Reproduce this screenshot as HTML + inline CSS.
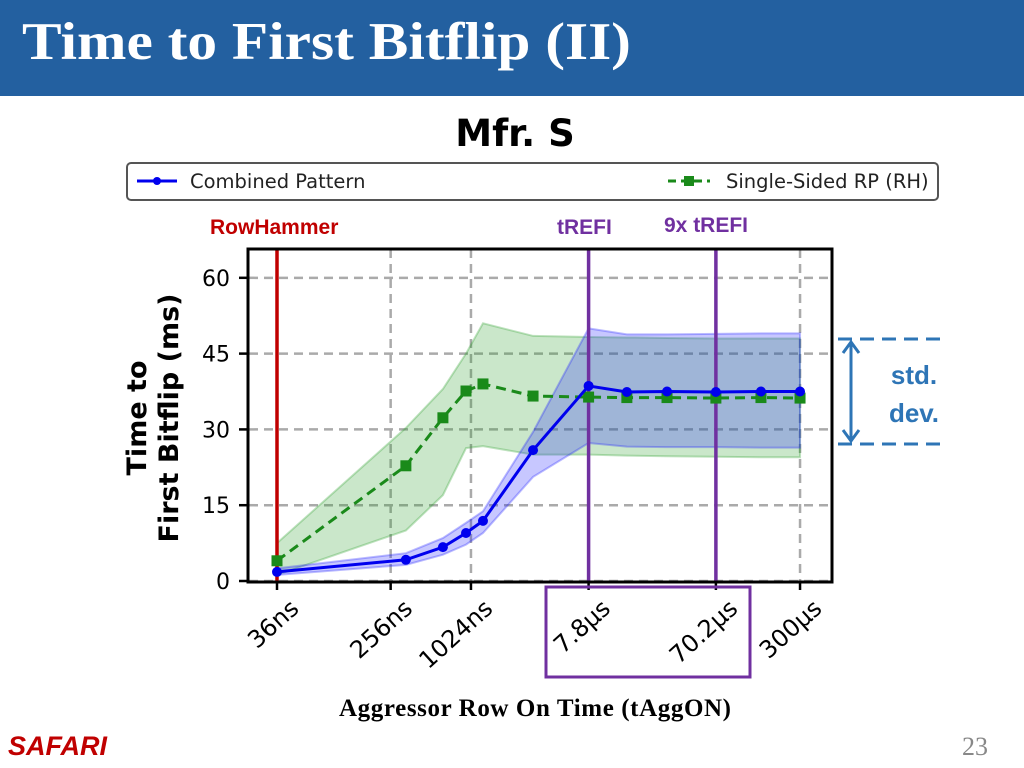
<!DOCTYPE html>
<html><head><meta charset="utf-8"><style>
body{margin:0;width:1024px;height:768px;overflow:hidden;background:#fff;font-family:"DejaVu Sans","Liberation Sans",sans-serif;position:relative}
.abs{position:absolute}
</style></head><body>
<div class="abs" style="left:0;top:0;width:1024px;height:96px;background:#2360a0"></div>
<div class="abs" style="left:22px;top:12px;font:bold 53px 'Liberation Serif',serif;color:#fff;transform:scaleX(1.12);transform-origin:0 0;white-space:nowrap">Time to First Bitflip (II)</div>
<svg class="abs" style="left:0;top:0" width="1024" height="768">
<text x="515" y="146" text-anchor="middle" font-size="37" font-weight="bold" font-family="DejaVu Sans,sans-serif">Mfr. S</text>
<g>
<rect x="127" y="163" width="811" height="37" rx="4" fill="#fff" stroke="#555" stroke-width="2"/>
<line x1="137" y1="181" x2="177" y2="181" stroke="#0000ee" stroke-width="3"/><circle cx="157" cy="181" r="4" fill="#0000ee"/>
<text x="190" y="188" font-size="19.5" fill="#222">Combined Pattern</text>
<line x1="668" y1="181" x2="710" y2="181" stroke="#1a8a1a" stroke-width="3" stroke-dasharray="8,5"/><rect x="684" y="176" width="10" height="10" fill="#1a8a1a"/>
<text x="726" y="188" font-size="19.5" fill="#222">Single-Sided RP (RH)</text>
</g>
<text x="210" y="234" font-size="21" font-weight="bold" fill="#c00000" font-family="Liberation Sans,sans-serif">RowHammer</text>
<text x="557" y="234" font-size="21" font-weight="bold" fill="#7030a0" font-family="Liberation Sans,sans-serif">tREFI</text>
<text x="664" y="232" font-size="21" font-weight="bold" fill="#7030a0" font-family="Liberation Sans,sans-serif">9x tREFI</text>
<g id="plot"></g>
<text transform="translate(146,418) rotate(-90)" text-anchor="middle" font-size="27" font-weight="bold"><tspan x="0" dy="0">Time to</tspan><tspan x="0" dy="32">First Bitflip (ms)</tspan></text>
<rect x="546" y="587" width="204" height="90" fill="none" stroke="#7030a0" stroke-width="3"/>
<g>
<line x1="838" y1="339" x2="942" y2="339" stroke="#2e75b6" stroke-width="3" stroke-dasharray="14,8"/>
<line x1="838" y1="444" x2="942" y2="444" stroke="#2e75b6" stroke-width="3" stroke-dasharray="14,8"/>
<line x1="851" y1="343" x2="851" y2="440" stroke="#2e75b6" stroke-width="3"/>
<polyline points="843,353 851,342 859,353" fill="none" stroke="#2e75b6" stroke-width="3"/>
<polyline points="843,430 851,441 859,430" fill="none" stroke="#2e75b6" stroke-width="3"/>
<text x="914" y="384" text-anchor="middle" font-size="26" font-weight="bold" fill="#2e75b6" font-family="Liberation Sans,sans-serif">std.</text>
<text x="914" y="422" text-anchor="middle" font-size="26" font-weight="bold" fill="#2e75b6" font-family="Liberation Sans,sans-serif">dev.</text>
</g>
<text x="535" y="716" text-anchor="middle" font-size="25" font-weight="bold" font-family="Liberation Serif,serif" textLength="392">Aggressor Row On Time (tAggON)</text>
<text x="8" y="755" font-size="27" font-weight="bold" font-style="italic" fill="#c00000" font-family="Liberation Sans,sans-serif">SAFARI</text>
<text x="988" y="755" text-anchor="end" font-size="26" fill="#888" font-family="Liberation Serif,serif">23</text>
</svg>
<script>
const xTickVals=[36,256,1024,7800,70200,300000];
const xTickLabels=["36ns","256ns","1024ns","7.8\u00b5s","70.2\u00b5s","300\u00b5s"];
const yTicks=[0,15,30,45,60];
const xs=[36,333,631,940,1260,2990,7800,15100,30200,70200,152800,300000];
const blue=[1.8,4.2,6.7,9.5,11.9,25.9,38.6,37.4,37.5,37.4,37.5,37.5];
const blueHi=[2.5,5.5,8.5,11.5,13.8,29.5,50,48.8,48.8,48.9,49,49];
const blueLo=[1.2,3.2,5.2,7.2,9.5,20.6,27.3,26.6,26.5,26.5,26.4,26.4];
const green=[4,22.8,32.3,37.6,39,36.6,36.4,36.3,36.3,36.2,36.3,36.2];
const greenHi=[7.5,30.3,38,45,51,48.5,48.3,48.2,48.1,48,48,48];
const greenLo=[1.2,10,17,26.3,26.7,25,25,24.8,24.7,24.6,24.5,24.5];
const X=v=>277+(Math.log10(v)-Math.log10(36))*133.4;
const Y=v=>581-v*5.053;
const NS="http://www.w3.org/2000/svg";
const g=document.getElementById('plot');
function mk(t,a){const e=document.createElementNS(NS,t);for(const k in a)e.setAttribute(k,a[k]);g.appendChild(e);return e;}
xTickVals.forEach((v,i)=>{const l=mk('line',{x1:X(v),x2:X(v),y1:249,y2:581,stroke:'#aaa','stroke-width':2.5,'stroke-dasharray':'9,6'});


const t=mk('text',{transform:`translate(${X(v)+12},${598}) rotate(-42)`,'text-anchor':'end','font-size':24,dy:'0.7em'});t.textContent=xTickLabels[i];


mk('line',{x1:X(v),x2:X(v),y1:583,y2:590,stroke:'#000','stroke-width':2.5});});
yTicks.forEach(v=>{const l=mk('line',{x1:249,x2:831,y1:Y(v),y2:Y(v),stroke:'#aaa','stroke-width':2.5,'stroke-dasharray':'9,6'});


mk('line',{x1:239,x2:248,y1:Y(v),y2:Y(v),stroke:'#000','stroke-width':2.5});
const t=mk('text',{x:230,y:Y(v)+8,'text-anchor':'end','font-size':22});t.textContent=v;

});
function band(hi,lo,fill,stroke,name){const p=xs.map((x,i)=>X(x)+','+Y(hi[i])).concat(xs.map((x,i)=>X(x)+','+Y(lo[i])).reverse());
const e=mk('polygon',{points:p.join(' '),fill:fill,'fill-opacity':0.25,stroke:stroke,'stroke-opacity':0.3,'stroke-width':2});

}
band(greenHi,greenLo,'#2ca02c','#2ca02c','single-sided-band');
band(blueHi,blueLo,'#1f1fff','#1f1fff','combined-band');
[[36,'#c00000','rowhammer-line'],[7800,'#7030a0','trefi-line'],[70200,'#7030a0','9x-trefi-line']].forEach(m=>{const l=mk('line',{x1:X(m[0]),x2:X(m[0]),y1:250,y2:582,stroke:m[1],'stroke-width':3.5});

});
const gl=mk('polyline',{points:xs.map((x,i)=>X(x)+','+Y(green[i])).join(' '),fill:'none',stroke:'#1a8a1a','stroke-width':3,'stroke-dasharray':'10,6'});


xs.forEach((x,i)=>{const r=mk('rect',{x:X(x)-5.5,y:Y(green[i])-5.5,width:11,height:11,fill:'#1a8a1a'});

});
const bl=mk('polyline',{points:xs.map((x,i)=>X(x)+','+Y(blue[i])).join(' '),fill:'none',stroke:'#0000ee','stroke-width':3});


xs.forEach((x,i)=>{const c=mk('circle',{cx:X(x),cy:Y(blue[i]),r:5,fill:'#0000ee'});

});
const fr=mk('rect',{x:248,y:249,width:584,height:333,fill:'none',stroke:'#000','stroke-width':3});


</script>
</body></html>
